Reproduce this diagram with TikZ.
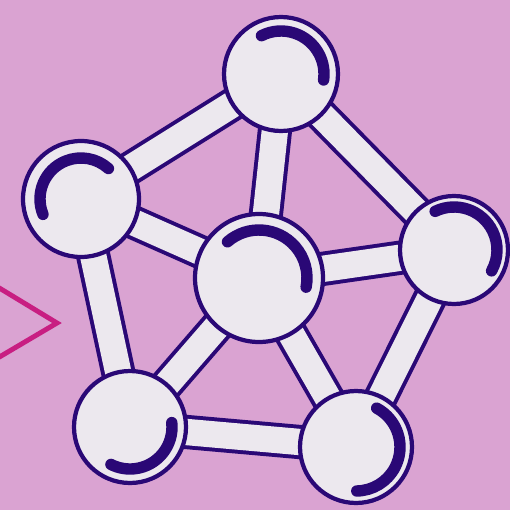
\documentclass[tikz,border=0pt]{standalone}
\definecolor{paper}{RGB}{218,163,210}
\definecolor{ink}{RGB}{42,8,118}
\definecolor{ballfill}{RGB}{236,232,238}
\definecolor{chevron}{RGB}{200,30,130}
\pgfdeclarelayer{back}
\pgfdeclarelayer{sticks}
\pgfsetlayers{back,sticks,main}
\begin{document}
\begin{tikzpicture}[x=0.02cm,y=-0.02cm,
  ball/.style={circle, draw=ink, fill=ballfill, line width=2.4pt, inner sep=0pt, minimum size=#1},
  stickout/.style={draw=ink, line width=19.5pt},
  stickin/.style={draw=ballfill, line width=15pt},
  shine/.style={draw=ink, line width=6.5pt, line cap=round}]
\useasboundingbox (0,0) rectangle (510,510);
\begin{pgfonlayer}{back}
\fill[paper] (0,0) rectangle (510,510);
\end{pgfonlayer}
\node[ball=2.28cm] (top) at (281,74) {};
\node[ball=2.32cm] (left) at (81,199) {};
\node[ball=2.16cm] (right) at (454,250) {};
\node[ball=2.56cm] (mid) at (259,278) {};
\node[ball=2.24cm] (botleft) at (130,427) {};
\node[ball=2.24cm] (botright) at (356,447) {};
\begin{pgfonlayer}{sticks}
\foreach \a/\b in {top/left, top/right, top/mid, left/mid, right/mid, left/botleft, right/botright, mid/botleft, mid/botright, botleft/botright}
  \draw[stickout] (\a.center) -- (\b.center);
\foreach \a/\b in {top/left, top/right, top/mid, left/mid, right/mid, left/botleft, right/botright, mid/botleft, mid/botright, botleft/botright}
  \draw[stickin] (\a.center) -- (\b.center);
\end{pgfonlayer}
\draw[shine] ([shift={(243:43)}]top.center) arc[start angle=243, end angle=368, radius=43];
\draw[shine] ([shift={(158:41)}]left.center) arc[start angle=158, end angle=312, radius=41];
\draw[shine] ([shift={(244:43)}]right.center) arc[start angle=244, end angle=389, radius=43];
\draw[shine] ([shift={(229:48)}]mid.center) arc[start angle=229, end angle=371, radius=48];
\draw[shine] ([shift={(-6:42)}]botleft.center) arc[start angle=-6, end angle=117, radius=42];
\draw[shine] ([shift={(-62:44)}]botright.center) arc[start angle=-62, end angle=89, radius=44];
\draw[chevron, line width=2.8pt] (-4,286) -- (57,323) -- (-4,359);
\end{tikzpicture}
\end{document}
